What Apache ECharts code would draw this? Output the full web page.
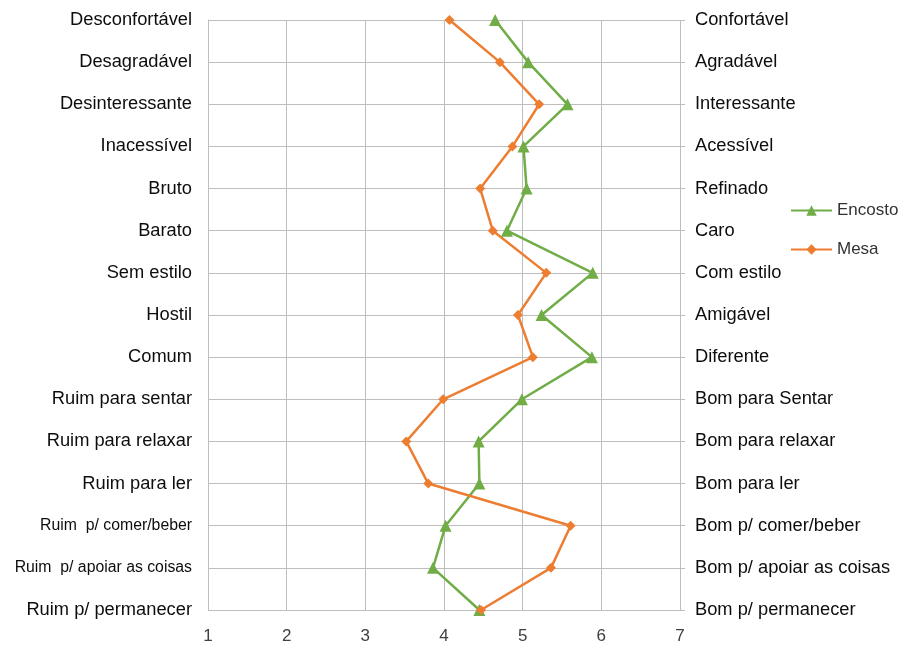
<!DOCTYPE html>
<html>
<head>
<meta charset="utf-8">
<script src="https://cdn.jsdelivr.net/npm/echarts@6/dist/echarts.min.js"></script>
<style>
  html, body { margin: 0; padding: 0; background: #fff; }
  #chart { width: 903px; height: 645px; }
</style>
</head>
<body>
<div id="chart"></div>
<script>
// Semantic differential: negative pole (left) vs positive pole (right)
const leftLabels = [
  'Desconfortável', 'Desagradável', 'Desinteressante', 'Inacessível', 'Bruto',
  'Barato', 'Sem estilo', 'Hostil', 'Comum', 'Ruim para sentar',
  'Ruim para relaxar', 'Ruim para ler', 'Ruim  p/ comer/beber',
  'Ruim  p/ apoiar as coisas', 'Ruim p/ permanecer'
];
const rightLabels = [
  'Confortável', 'Agradável', 'Interessante', 'Acessível', 'Refinado',
  'Caro', 'Com estilo', 'Amigável', 'Diferente', 'Bom para Sentar',
  'Bom para relaxar', 'Bom para ler', 'Bom p/ comer/beber',
  'Bom p/ apoiar as coisas', 'Bom p/ permanecer'
];
// Labels drawn in a smaller font on the left side
const smallLeft = ['Ruim  p/ comer/beber', 'Ruim  p/ apoiar as coisas'];

const encosto = [4.65, 5.07, 5.57, 5.01, 5.05, 4.80, 5.89, 5.24, 5.88, 4.99, 4.44, 4.45, 4.02, 3.86, 4.45];
const mesa    = [4.07, 4.71, 5.21, 4.87, 4.46, 4.62, 5.30, 4.94, 5.13, 3.99, 3.52, 3.80, 5.61, 5.36, 4.47];

const xTicks = { min: 1, max: 7, interval: 1 };

const gridColor = '#bdbdbd';
const textColor = '#0d0d0d';
const font = 'Liberation Sans, Arial, sans-serif';

const chart = echarts.init(document.getElementById('chart'));
chart.setOption({
  animation: false,
  grid: { left: 208, right: 223, top: 20, bottom: 35, containLabel: false },
  legend: {
    orient: 'vertical',
    left: 790,
    top: 202,
    padding: 0,
    itemGap: 22,
    itemWidth: 41,
    itemHeight: 13,
    textStyle: { fontFamily: font, fontSize: 17, color: '#333' },
    data: ['Encosto', 'Mesa']
  },
  xAxis: {
    type: 'value',
    min: xTicks.min, max: xTicks.max, interval: xTicks.interval,
    axisLine: { show: false },
    axisTick: { show: false },
    splitLine: { show: true, lineStyle: { color: gridColor, width: 1 } },
    axisLabel: { fontFamily: font, fontSize: 17, color: '#404040', margin: 18 }
  },
  yAxis: [
    {
      type: 'category',
      data: leftLabels,
      inverse: true,
      boundaryGap: false,
      position: 'left',
      axisLine: { show: true, lineStyle: { color: gridColor } },
      axisTick: { show: false },
      splitLine: { show: true, lineStyle: { color: gridColor, width: 1 } },
      axisLabel: {
        fontFamily: font, fontSize: 18.3, color: textColor, margin: 16,
        formatter: v => smallLeft.includes(v) ? '{s|' + v + '}' : v,
        rich: { s: { fontFamily: font, fontSize: 15.8, color: textColor } }
      }
    },
    {
      type: 'category',
      data: rightLabels,
      inverse: true,
      boundaryGap: false,
      position: 'right',
      axisLine: { show: false },
      axisTick: { show: true, length: 5, lineStyle: { color: gridColor } },
      splitLine: { show: false },
      axisLabel: { fontFamily: font, fontSize: 18.3, color: textColor, margin: 15 }
    }
  ],
  series: [
    {
      name: 'Encosto',
      type: 'line',
      yAxisIndex: 0,
      data: encosto.map((v, i) => [v, leftLabels[i]]),
      symbol: 'triangle',
      symbolSize: 12,
      color: '#70ad47',
      lineStyle: { width: 2.5, color: '#70ad47' },
      itemStyle: { color: '#70ad47' }
    },
    {
      name: 'Mesa',
      type: 'line',
      yAxisIndex: 0,
      data: mesa.map((v, i) => [v, leftLabels[i]]),
      symbol: 'diamond',
      symbolSize: 10,
      color: '#ed7d31',
      lineStyle: { width: 2.5, color: '#ed7d31' },
      itemStyle: { color: '#ed7d31' }
    }
  ]
});
</script>
</body>
</html>
